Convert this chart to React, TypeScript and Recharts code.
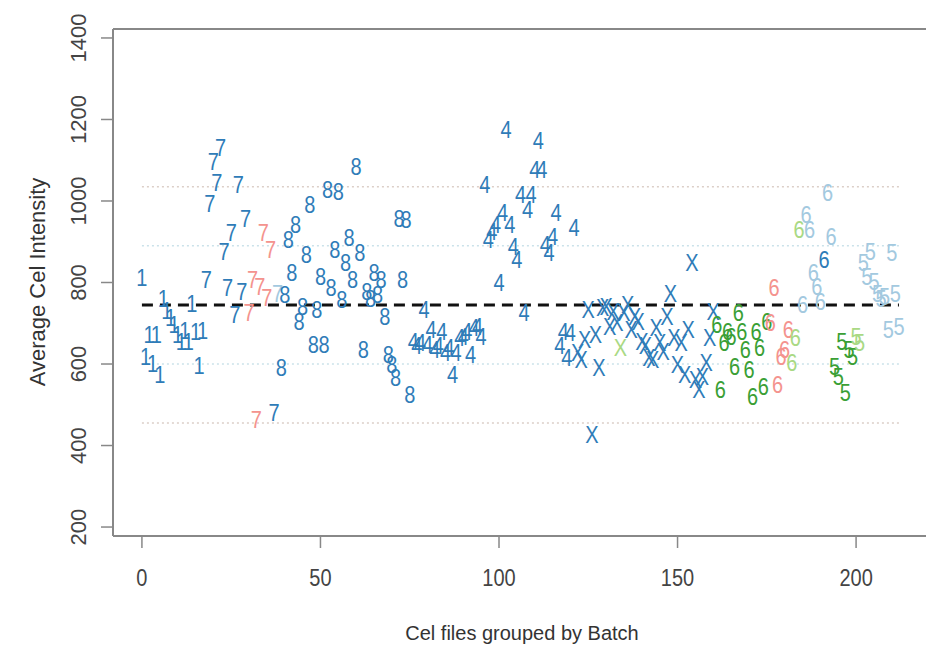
import React from "react";
import { ScatterChart, Scatter, XAxis, YAxis, ReferenceLine } from "recharts";

const FONT = "'Liberation Sans', Arial, sans-serif";

// colour codes used in the per-batch colour strings
const PALETTE: Record<string, string> = {
  b: "#2F7CB8",
  r: "#F4938E",
  g: "#3A9F35",
  y: "#A9D984",
  l: "#A3C9DF",
};

// batch labels, in plotting order
const batchLabels = ["1", "7", "8", "4", "X", "6", "5"];

// average intensity per cel file, one array per batch
const batch1 = [811, 617, 670, 600, 672, 572, 760, 730, 712, 695, 672, 655, 680, 655, 748, 678, 594, 680];
const batch7 = [806, 993, 1096, 1043, 1129, 876, 786, 921, 720, 1039, 777, 957, 724, 806, 463, 790, 921, 761, 880, 479, 773];
const batch8 = [
  590, 769, 904, 823, 941, 704, 741, 867, 990, 647, 733, 814, 647, 1027, 786, 880, 1023, 757, 849, 910,
  806, 1084, 872, 634, 777, 760, 823, 769, 806, 716, 622, 598, 565, 957, 806, 953, 524,
];
const batch4 = [
  655, 643, 651, 733, 647, 683, 634, 643, 679, 626, 639, 573, 626, 663, 667, 679, 622, 688, 692, 667,
  1039, 904, 925, 941, 798, 970, 1174, 941, 888, 855, 1015, 724, 978, 1015, 1076, 1146, 1076, 892, 872, 912,
  970, 643, 679, 614, 675, 933,
];
const batchX = [
  626, 610, 659, 733, 426, 671, 590, 737, 741, 692, 728, 700, 639, 724, 745, 683, 716, 704, 655, 643,
  614, 610, 688, 651, 630, 716, 773, 663, 598, 651, 573, 683, 847, 561, 536, 569, 602, 663, 728,
];
const batch6 = [
  696, 536, 651, 679, 667, 593, 724, 679, 634, 585, 520, 679, 639, 544, 704, 700, 786, 548, 618, 634,
  683, 602, 663, 929, 745, 966, 929, 823, 790, 753, 855, 1019, 912,
];
const batch5 = [593, 569, 655, 528, 634, 618, 667, 651, 847, 814, 876, 802, 773, 760, 765, 683, 872, 773, 692];

// colour code for each point of each batch
const batch1Col = "bbbbbbbbbbbbbbbbbb";
const batch7Col = "bbbbbbbbbbbbrrrrrrrbl";
const batch8Col = "bbbbbbbbbbbbbbbbbbbbbbbbbbbbbbbbbbbbb";
const batch4Col = "bbbbbbbbbbbbbbbbbbbbbbbbbbbbbbbbbbbbbbbbbbbbbb";
const batchXCol = "bbbbbbbbbbbbybbbbbbbbbbbbbbbbbbbbbbbbbb";
const batch6Col = "gggggggggggggggrrrrrryyyllllllblll";
const batch5Col = "ggggggyylllllllllll";

const batchValues = [batch1, batch7, batch8, batch4, batchX, batch6, batch5];
const batchColours = [batch1Col, batch7Col, batch8Col, batch4Col, batchXCol, batch6Col, batch5Col];

// overall mean and +-1 / +-2 sd levels
const meanLevel = 745;
const sd1Levels = [600, 890];
const sd2Levels = [455, 1035];

const xTicks = [0, 50, 100, 150, 200];
const yTicks = [200, 400, 600, 800, 1000, 1200, 1400];

const points: { x: number; y: number; label: string; color: string }[] = [];
batchValues.forEach((vals, b) => {
  vals.forEach((v, i) => {
    points.push({
      x: points.length,
      y: v,
      label: batchLabels[b],
      color: PALETTE[batchColours[b][i]] ?? PALETTE.b,
    });
  });
});
const lastX = points.length - 1;

const Glyph = (props: any) => {
  const { cx, cy } = props;
  const p = props.payload ?? props;
  if (cx == null || cy == null) return null;
  return (
    <text
      transform={`translate(${cx},${cy}) scale(1,1.15)`}
      textAnchor="middle"
      dominantBaseline="central"
      fontSize={20}
      fontFamily={FONT}
      fill={p.color}
    >
      {p.label}
    </text>
  );
};

const XTick = (props: any) => {
  const { x, y, payload } = props;
  return (
    <text
      transform={`translate(${x},${y + 28}) scale(1,1.15)`}
      textAnchor="middle"
      dominantBaseline="central"
      fontSize={20}
      fontFamily={FONT}
      fill="#444"
    >
      {payload.value}
    </text>
  );
};

const YTick = (props: any) => {
  const { x, y, payload } = props;
  return (
    <text
      transform={`translate(${x - 21},${y}) rotate(-90)`}
      textAnchor="middle"
      dominantBaseline="central"
      fontSize={22}
      fontFamily={FONT}
      fill="#444"
    >
      {payload.value}
    </text>
  );
};

export default function App() {
  return (
    <div style={{ position: "absolute", left: 0, top: 0, width: 926, height: 647, overflow: "hidden", background: "#fff" }}>
      <ScatterChart width={940} height={647} margin={{ top: 29, right: 10, bottom: 0, left: 53 }}>
        <XAxis
          type="number"
          dataKey="x"
          domain={[-8.1, 220.7]}
          allowDataOverflow
          ticks={xTicks}
          tickSize={12}
          height={111}
          axisLine={{ stroke: "#888", strokeWidth: 2 }}
          tickLine={{ stroke: "#888", strokeWidth: 1.5 }}
          tick={<XTick />}
          label={{
            content: () => (
              <text x={522} y={633} textAnchor="middle" dominantBaseline="central" fontSize={20} fontFamily={FONT} fill="#333">
                Cel files grouped by Batch
              </text>
            ),
          }}
        />
        <YAxis
          type="number"
          dataKey="y"
          domain={[178, 1422]}
          allowDataOverflow
          ticks={yTicks}
          tickSize={12}
          width={60}
          axisLine={{ stroke: "#888", strokeWidth: 2 }}
          tickLine={{ stroke: "#888", strokeWidth: 1.5 }}
          tick={<YTick />}
          label={{
            content: () => (
              <text
                transform="translate(37,282) rotate(-90)"
                textAnchor="middle"
                dominantBaseline="central"
                fontSize={22}
                fontFamily={FONT}
                fill="#333"
              >
                Average Cel Intensity
              </text>
            ),
          }}
        />
        <ReferenceLine y={1422} stroke="#888" strokeWidth={2} />
        {sd2Levels.map((v) => (
          <ReferenceLine key={`sd2-${v}`} segment={[{ x: 0, y: v }, { x: lastX, y: v }]} stroke="#dccfc8" strokeWidth={1.5} strokeDasharray="2 3" />
        ))}
        {sd1Levels.map((v) => (
          <ReferenceLine key={`sd1-${v}`} segment={[{ x: 0, y: v }, { x: lastX, y: v }]} stroke="#cbe2ea" strokeWidth={1.5} strokeDasharray="2 3" />
        ))}
        <Scatter data={points} isAnimationActive={false} shape={Glyph} />
        <ReferenceLine segment={[{ x: 0, y: meanLevel }, { x: lastX, y: meanLevel }]} stroke="#111" strokeWidth={3} strokeDasharray="11 7" />
      </ScatterChart>
    </div>
  );
}
